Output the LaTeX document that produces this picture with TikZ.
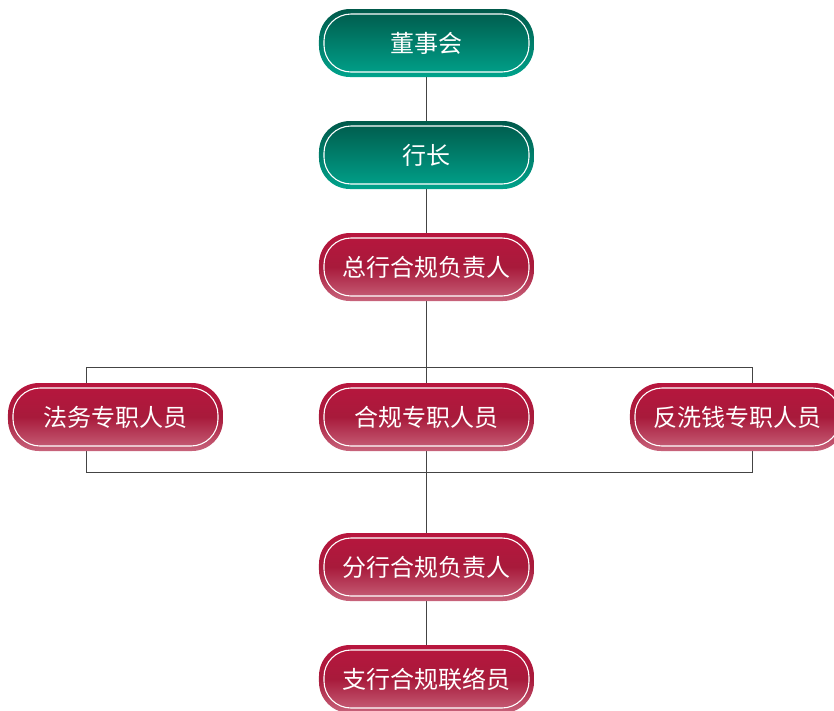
\documentclass[tikz,border=0pt]{standalone}
\usepackage{fontspec}
\newfontfamily\cjk{Noto Sans CJK SC}
\usetikzlibrary{matrix, backgrounds}

\definecolor{greentop}{HTML}{00594A}
\definecolor{greenbot}{HTML}{00A38C}
\definecolor{redtop}{HTML}{B8163E}
\definecolor{redmid}{HTML}{A81A3B}
\definecolor{redbot}{HTML}{C8647C}
\definecolor{linegray}{HTML}{444444}

\tikzset{
  pill/.style={rectangle, rounded corners=31pt, minimum width=215pt, minimum height=68pt,
    text=white, font=\cjk\fontsize{24}{29}\selectfont,
    path picture={\draw[white, line width=1.1pt, rounded corners=27pt]
      ([shift={(5pt,5pt)}]path picture bounding box.south west) rectangle
      ([shift={(-5pt,-5pt)}]path picture bounding box.north east);}},
  boardbox/.style={pill, top color=greentop, bottom color=greenbot},
  dutybox/.style={pill, top color=redtop, bottom color=redbot, middle color=redmid},
  link/.style={draw=linegray, line width=1pt}
}

\begin{document}
\begin{tikzpicture}
\matrix (m) [column sep = 96pt, row sep = 44pt]{
& \node[boardbox](a1){董事会}; & \\
& \node[boardbox](a2){行长}; & \\
& \node[dutybox](a3){总行合规负责人}; & \\[38pt]
\node[dutybox](b1){法务专职人员}; & \node[dutybox](b2){合规专职人员}; & \node[dutybox](b3){反洗钱专职人员}; \\[38pt]
& \node[dutybox](c1){分行合规负责人}; & \\
& \node[dutybox](c2){支行合规联络员}; & \\
};
\coordinate (fl) at ([shift={(-28.5pt,50pt)}]b1.center);
\coordinate (fr) at ([shift={(14.5pt,-55pt)}]b3.center);
\begin{scope}[on background layer]
\draw[link] (a1) -- (a2);
\draw[link] (a2) -- (a3);
\draw[link] (a3) -- (c1);
\draw[link] (c1) -- (c2);
\draw[link] (fl) rectangle (fr);
\end{scope}
\pgfresetboundingbox
\path[use as bounding box] ([shift={(-426.5pt,417pt)}]b2.center) rectangle ([shift={(407.5pt,-293pt)}]b2.center);
\end{tikzpicture}
\end{document}
